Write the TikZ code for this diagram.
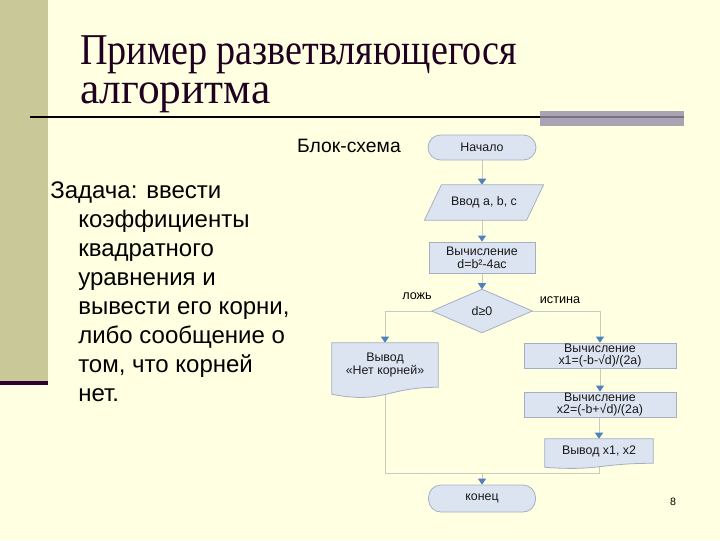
\documentclass[tikz,border=0pt]{standalone}
\usepackage{fontspec}
\setmainfont{Liberation Sans}
\newfontfamily\titlefont{Liberation Serif}
\usepackage{graphicx}
\usetikzlibrary{arrows.meta,calc}
\definecolor{bgc}{RGB}{255,255,225}
\definecolor{stripc}{RGB}{200,200,152}
\definecolor{purplec}{RGB}{48,0,48}
\definecolor{barc}{RGB}{170,163,180}
\definecolor{titlec}{RGB}{32,0,32}
\definecolor{boxfill}{RGB}{221,228,241}
\definecolor{boxdraw}{RGB}{165,175,195}
\definecolor{linec}{RGB}{200,204,190}
\definecolor{arrowc}{RGB}{79,129,189}
\pgfdeclarelayer{back}
\pgfdeclarelayer{bg}
\pgfsetlayers{back,bg,main}
\tikzset{
  boxtext/.style={font=\fontsize{9.3}{9.6}\selectfont, text=black!90, align=center, inner sep=0pt},
  procbox/.style={boxtext, draw=boxdraw, fill=boxfill, line width=0.6pt, rectangle},
  termbox/.style={procbox, rounded corners=9.4pt},
  ghost/.style={boxtext, rectangle},
  shapeline/.style={draw=boxdraw, fill=boxfill, line width=0.6pt},
  conn/.style={draw=linec, line width=0.7pt, -{Triangle[width=6pt,length=4.5pt,color=arrowc]}},
  plainline/.style={draw=linec, line width=0.7pt},
  lefttext/.style={anchor=base west, inner sep=0pt, font=\fontsize{18}{18}\selectfont},
  lbl/.style={inner sep=0pt, font=\fontsize{9.5}{9.5}\selectfont}
}
\begin{document}
\begin{tikzpicture}[x=0.75pt,y=-0.75pt]
\useasboundingbox (0,0) rectangle (720,540);
\begin{pgfonlayer}{back}
\fill[bgc] (0,0) rectangle (720,540);
\fill[stripc] (0,0) rectangle (48,382);
\fill[purplec] (0,381) rectangle (48,385);
\fill[barc] (540,111) rectangle (684,126);
\draw[line width=1.5pt, black] (30,117) -- (540,117);
\draw[line width=1.2pt, barc!70!black] (540,117) -- (684,117);
\end{pgfonlayer}

% title (one text of two lines; base anchor = baseline of last line)
\node[anchor=base west, inner sep=0pt, text=titlec, align=left,
      font=\titlefont\fontsize{33}{29.25}\selectfont] (title) at (80,103)
  {\resizebox{327.75pt}{\height}{Пример разветвляющегося}\\
   \resizebox{142.5pt}{\height}{алгоритма}};

% left text
\node[lefttext] (l1) at (50,198) {Задача: ввести};
\node[lefttext] (l2) at (78,227) {коэффициенты};
\node[lefttext] (l3) at (78,256) {квадратного};
\node[lefttext] (l4) at (78,285) {уравнения и};
\node[lefttext] (l5) at (78,314) {вывести его корни,};
\node[lefttext] (l6) at (78,343) {либо сообщение о};
\node[lefttext] (l7) at (78,372) {том, что корней};
\node[lefttext] (l8) at (78,401) {нет.};

\node[inner sep=0pt, font=\fontsize{14.5}{14.5}\selectfont] (bs) at (349,146) {Блок-схема};

% flowchart
\node[termbox, minimum width=81pt, minimum height=18.75pt] (start) at (482,147.5) {Начало};
\node[ghost, minimum width=89pt, minimum height=26.25pt] (inp) at (484,202.5) {Ввод a, b, c};
\node[procbox, minimum width=79.5pt, minimum height=23.25pt] (calc) at (482,257.5) {Вычисление\\d=b²-4ac};
\node[ghost, minimum width=75pt, minimum height=32.25pt] (dec) at (482,311) {d≥0};
\node[ghost, minimum width=79.5pt, minimum height=33pt] (no) at (385,365) {Вывод\\«Нет корней»};
\node[procbox, minimum width=114pt, minimum height=18.75pt] (x1) at (600,355.5) {Вычисление\\x1=(-b-√d)/(2a)};
\node[procbox, minimum width=114pt, minimum height=18.75pt] (x2) at (600,404.5) {Вычисление\\x2=(-b+√d)/(2a)};
\node[ghost, minimum width=81pt, minimum height=18pt] (out) at (599,451) {Вывод x1, x2};
\node[termbox, minimum width=80.25pt, minimum height=20.25pt] (end) at (482,498.5) {конец};

% shapes drawn from ghost nodes
\begin{pgfonlayer}{bg}
\path[shapeline] ($(inp.north west)+(17,0)$) -- (inp.north east) -- ($(inp.south east)+(-17,0)$) -- (inp.south west) -- cycle;
\path[shapeline] (dec.north) -- (dec.east) -- (dec.south) -- (dec.west) -- cycle;
\path[shapeline] (no.north west) -- (no.north east) -- (no.south east)
  .. controls (no.south) and ($(no.south)+(0,17)$) .. ($(no.south west)+(0,7)$) -- cycle;
\path[shapeline] (out.north west) -- (out.north east) -- (out.south east)
  .. controls (out.south) and ($(out.south)+(0,8)$) .. ($(out.south west)+(0,4)$) -- cycle;
\end{pgfonlayer}

\coordinate (m) at (482,473);
\begin{pgfonlayer}{back}
\draw[conn] (start.south) -- (start.south |- inp.north);
\draw[conn] (calc.north |- inp.south) -- (calc.north);
\draw[conn] (calc.south) -- (dec.north);
\draw[conn] (dec.west) -| (no.north);
\draw[conn] (dec.east) -| (x1.north);
\draw[conn] (x1.south) -- (x2.north);
\draw[conn] (x2.south -| out.north) -- (out.north);
\draw[plainline] (no.south) |- (m);
\draw[plainline] (out.south) |- (m);
\draw[conn] (m) -- (end.north);
\end{pgfonlayer}

\node[lbl] (fl) at (417,296) {ложь};
\node[lbl] (tr) at (560,300) {истина};
\node[inner sep=0pt, font=\fontsize{8}{8}\selectfont] (pg) at (673,502) {8};
\end{tikzpicture}
\end{document}
